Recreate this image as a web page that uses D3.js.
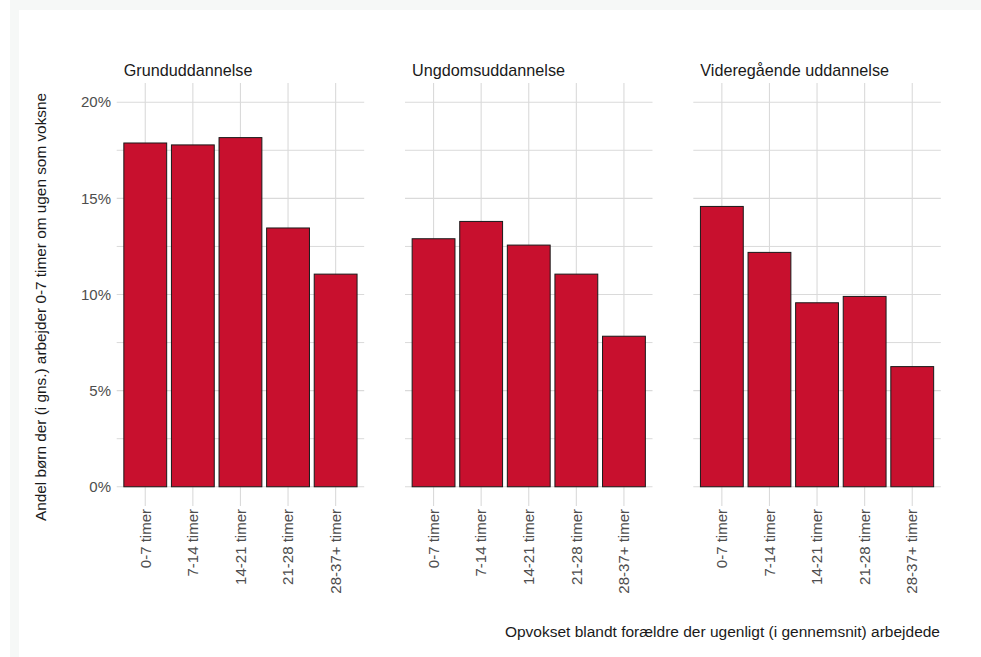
<!DOCTYPE html>
<html>
<head>
<meta charset="utf-8">
<script src="https://cdn.jsdelivr.net/npm/d3@7"></script>
<style>
  html, body { margin: 0; padding: 0; background: #ffffff; }
  svg { display: block; }
  text { font-family: "Liberation Sans", Arial, sans-serif; }
</style>
</head>
<body>
<svg id="chart" width="981" height="657"></svg>
<script>
// ---- data ----
const panels = ["Grunduddannelse", "Ungdomsuddannelse", "Videregående uddannelse"];
const categories = ["0-7 timer", "7-14 timer", "14-21 timer", "21-28 timer", "28-37+ timer"];
const grundValues = [17.88, 17.78, 18.16, 13.46, 11.06];
const ungdomValues = [12.90, 13.80, 12.57, 11.06, 7.83];
const videreValues = [14.58, 12.19, 9.57, 9.90, 6.25];
const yTicks = [0, 5, 10, 15, 20];
const yMinorTicks = [2.5, 7.5, 12.5, 17.5];
const yTitle = "Andel børn der (i gns.) arbejder 0-7 timer om ugen som voksne";
const xTitle = "Opvokset blandt forældre der ugenligt (i gennemsnit) arbejdede";

const seriesByPanel = [grundValues, ungdomValues, videreValues];

// ---- layout ----
const svg = d3.select("#chart");
const W = 981, H = 657;
svg.append("rect").attr("x", 0).attr("y", 0).attr("width", W).attr("height", H).attr("fill", "#ffffff");
svg.append("rect").attr("x", 10).attr("y", 0).attr("width", W - 10).attr("height", 10).attr("fill", "#f6f8f7");
svg.append("rect").attr("x", 10).attr("y", 10).attr("width", 9).attr("height", H - 10).attr("fill", "#f6f8f7");

const panelLefts = [116.7, 405, 693.3];
const panelWidth = 247.5;
const panelTop = 83, panelBottom = 506;

const y = d3.scaleLinear().domain([-1, 21]).range([panelBottom, panelTop]);

const gridColor = "#dadada";
const barFill = "#c8102e";

panels.forEach((name, pi) => {
  const x0 = panelLefts[pi], x1 = x0 + panelWidth;
  const x = d3.scaleBand().domain(categories).range([x0, x1]).paddingInner(0.1).paddingOuter(0.15);
  const g = svg.append("g");

  // minor gridlines
  g.selectAll(".minor").data(yMinorTicks).enter().append("line")
    .attr("x1", x0).attr("x2", x1)
    .attr("y1", d => y(d)).attr("y2", d => y(d))
    .attr("stroke", gridColor).attr("stroke-width", 1);
  // major gridlines
  g.selectAll(".major").data(yTicks).enter().append("line")
    .attr("x1", x0).attr("x2", x1)
    .attr("y1", d => y(d)).attr("y2", d => y(d))
    .attr("stroke", gridColor).attr("stroke-width", 1.1);
  // vertical gridlines
  g.selectAll(".vgrid").data(categories).enter().append("line")
    .attr("x1", d => x(d) + x.bandwidth() / 2).attr("x2", d => x(d) + x.bandwidth() / 2)
    .attr("y1", panelTop).attr("y2", panelBottom)
    .attr("stroke", gridColor).attr("stroke-width", 1.1);

  // bars
  const vals = seriesByPanel[pi];
  g.selectAll(".bar").data(categories).enter().append("rect")
    .attr("x", d => x(d))
    .attr("width", x.bandwidth())
    .attr("y", (d, i) => y(vals[i]))
    .attr("height", (d, i) => y(0) - y(vals[i]))
    .attr("fill", barFill)
    .attr("stroke", "#1a1a1a")
    .attr("stroke-width", 1);

  // strip label
  g.append("text")
    .attr("x", x0 + 7).attr("y", 76)
    .attr("font-size", 16.2).attr("fill", "#1a1a1a")
    .text(name);

  // x tick labels
  g.selectAll(".xlab").data(categories).enter().append("text")
    .attr("transform", d => `translate(${x(d) + x.bandwidth() / 2},509) rotate(-90)`)
    .attr("text-anchor", "end")
    .attr("dy", "0.35em")
    .attr("font-size", 15).attr("fill", "#4d4d4d")
    .text(d => d);

  // y tick labels (first panel only)
  if (pi === 0) {
    g.selectAll(".ylab").data(yTicks).enter().append("text")
      .attr("x", 111).attr("y", d => y(d))
      .attr("dy", "0.35em")
      .attr("text-anchor", "end")
      .attr("font-size", 15).attr("fill", "#4d4d4d")
      .text(d => d + "%");
  }
});

// axis titles
svg.append("text")
  .attr("transform", `translate(46,307) rotate(-90)`)
  .attr("text-anchor", "middle")
  .attr("font-size", 15.35).attr("fill", "#1a1a1a")
  .text(yTitle);

svg.append("text")
  .attr("x", 940).attr("y", 637)
  .attr("text-anchor", "end")
  .attr("font-size", 15.5).attr("fill", "#1a1a1a")
  .text(xTitle);
</script>
</body>
</html>
